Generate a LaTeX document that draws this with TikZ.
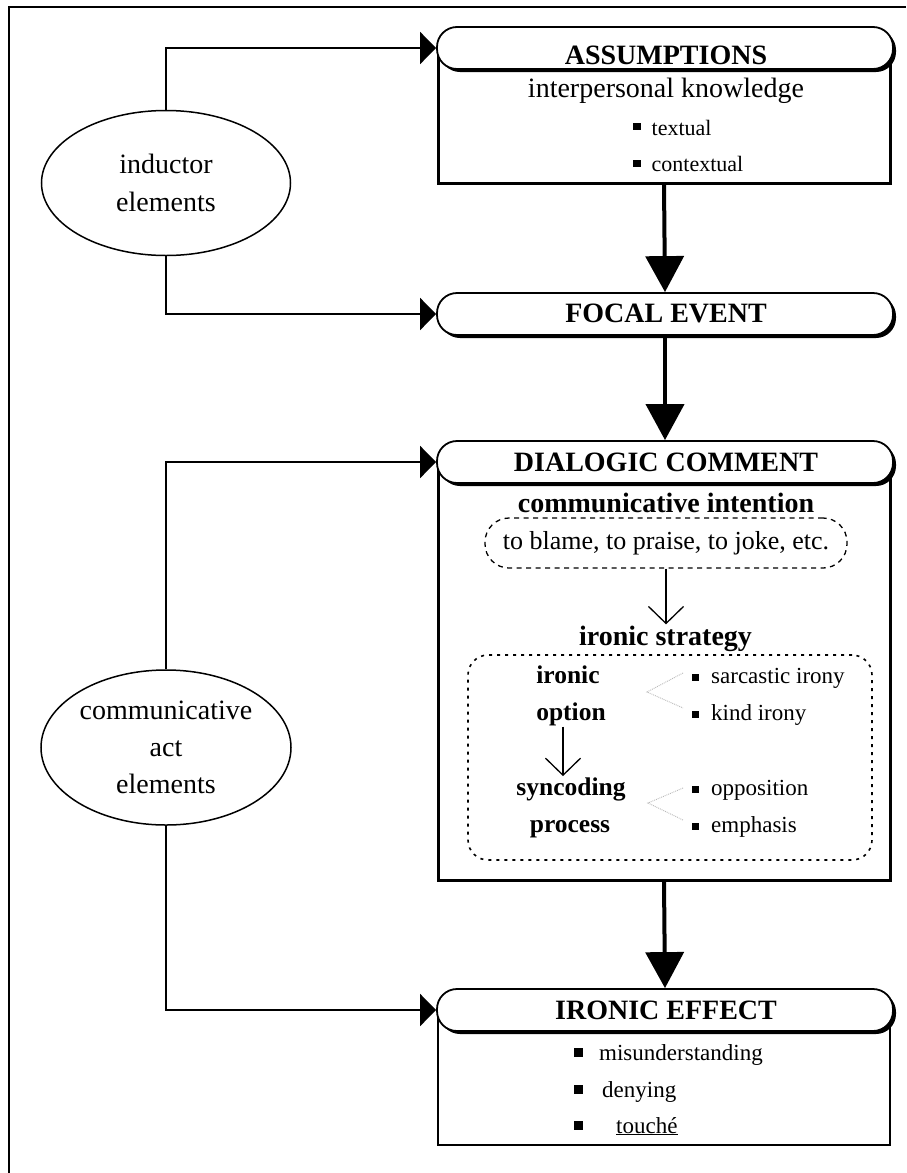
\documentclass[tikz,border=0pt]{standalone}
\usepackage{fontspec}
\setmainfont{Liberation Serif}
\usetikzlibrary{arrows.meta,shapes.geometric,shadows}
\newcommand{\fsz}[2]{\fontsize{#1}{#2}\selectfont}
\newcommand{\sqr}[3]{\rule[#1]{#2}{#2}\hspace{#3}}
\begin{document}
\begin{tikzpicture}[x=1pt,y=-1pt,
  pill/.style={draw=black, line width=1.8pt, fill=white, rounded corners=20pt,
    minimum width=456pt, minimum height=42pt, inner sep=0pt,
    drop shadow={shadow xshift=3pt, shadow yshift=-3pt, opacity=1, fill=black}},
  box/.style={draw=black, line width=3pt, fill=white, inner sep=0pt, minimum width=452pt},
  oval/.style={draw=black, ellipse, line width=1.5pt, inner sep=0pt, align=center, font=\fsz{28}{37}},
  lab/.style={inner sep=1pt, anchor=base},
  item/.style={inner sep=0pt, anchor=base west},
  heavy/.style={line width=4pt, -{Triangle[length=36pt,width=38pt]}},
  side/.style={line width=1.8pt, -{Triangle[length=16pt,width=32pt]}},
  thin/.style={line width=1.3pt, -{Straight Barb[length=17pt,width=35pt]}},
  dashbox/.style={draw=black, line width=1.3pt, rounded corners=24pt, inner sep=0pt},
  brack/.style={gray!55, densely dotted, line width=0.9pt}
]
\useasboundingbox (0,0) rectangle (906,1173);
% frame
\draw[line width=2pt] (9,1173) -- (9,7) -- (906,7);

% boxes
\node[box, minimum height=135pt] (assumbox) at (664,115.5) {};
\node[box, minimum height=419pt] (dialbox) at (664,670.5) {};
\node[box, line width=2.2pt, minimum height=135pt] (ironbox) at (664,1077.5) {};

% pills
\node[pill] (assum) at (665,48) {};
\node[pill] (focal) at (665,314) {};
\node[pill] (dialog) at (665,462) {};
\node[pill] (ironic) at (665,1010) {};

\node[lab, font=\bfseries\fsz{28}{30}] (assumL) at (666,64) {ASSUMPTIONS};
\node[lab, font=\bfseries\fsz{28}{30}] (focalL) at (666,322) {FOCAL EVENT};
\node[lab, font=\bfseries\fsz{28}{30}] (dialogL) at (666,471) {DIALOGIC COMMENT};
\node[lab, font=\bfseries\fsz{28}{30}] (ironicL) at (666,1019) {IRONIC EFFECT};

% assumptions content
\node[lab, font=\fsz{28}{30}] (ipk) at (666,97) {interpersonal knowledge};
\node[item, font=\fsz{22}{24}] (textual) at (633,135) {\sqr{5pt}{7.5pt}{11pt}textual};
\node[item, font=\fsz{22}{24}] (contextual) at (633,171) {\sqr{4pt}{7.5pt}{11pt}contextual};

% dialogic content
\node[lab, font=\bfseries\fsz{28}{30}] (intentL) at (666,512) {communicative intention};
\node[dashbox, dash pattern=on 5pt off 4.5pt, minimum width=362pt, minimum height=50pt,
  font=\fsz{26}{28}] (intent) at (666,543) {to blame, to praise, to joke, etc.};
\node[lab, font=\bfseries\fsz{28}{30}] (stratL) at (665.5,645) {ironic strategy};
\node[dashbox, dash pattern=on 3pt off 5pt, line width=1.6pt, rounded corners=20pt,
  minimum width=404pt, minimum height=205pt] (stratbox) at (670,757.5) {};

\node[lab, font=\bfseries\fsz{25.5}{27}] (ironL) at (568,683) {ironic};
\node[lab, font=\bfseries\fsz{25.5}{27}] (optL) at (571,720) {option};
\node[lab, font=\bfseries\fsz{25.5}{27}] (syncL) at (571,795) {syncoding};
\node[lab, font=\bfseries\fsz{25.5}{27}] (procL) at (570,832) {process};

\node[item, font=\fsz{23}{25}] (sarc) at (692,683) {\sqr{2pt}{7pt}{12pt}sarcastic irony};
\node[item, font=\fsz{23}{25}] (kind) at (692,720) {\sqr{2pt}{7pt}{12pt}kind irony};
\node[item, font=\fsz{23}{25}] (oppo) at (692,795) {\sqr{2pt}{7pt}{12pt}opposition};
\node[item, font=\fsz{23}{25}] (emph) at (692,832) {\sqr{2pt}{7pt}{12pt}emphasis};

\coordinate (b1) at (647,692);
\coordinate (b2) at (648,803);
\draw[brack] (sarc.west |- 0,673) ++(-9,0) -- (b1) -- (683,708);
\draw[brack] (683,788) -- (b2) -- (683,820);

% ironic effect content
\node[item, font=\fsz{23}{25}] (mis) at (574,1060) {\sqr{3pt}{9pt}{16pt}misunderstanding};
\node[item, font=\fsz{23}{25}] (deny) at (574,1097) {\sqr{3pt}{9pt}{19pt}denying};
\node[item, font=\fsz{23}{25}] (touche) at (574,1133) {\sqr{3pt}{9pt}{33pt}\underline{touché}};

% ellipses
\node[oval, minimum width=249pt, minimum height=145pt, font=\fsz{28}{38}] (induct) at (166,183) {inductor\\elements};
\node[oval, minimum width=250pt, minimum height=155pt] (commact) at (166,747.5) {communicative\\act\\elements};

% connectors
\draw[heavy] (assumbox.south) -- (focal.north);
\draw[heavy] (focal.south) -- (dialog.north);
\draw[heavy] (dialbox.south) -- (ironic.north);

\draw[side] (induct.north) |- (assum.west);
\draw[side] (induct.south) |- (focal.west);
\draw[side] (commact.north) |- (dialog.west);
\draw[side] (commact.south) |- (ironic.west);

\draw[thin] (intent.south) -- (intent.south |- stratL.north);
\draw[thin] ([xshift=-8pt]optL.south) -- ([xshift=-8pt]optL.south |- syncL.north);
\end{tikzpicture}
\end{document}
